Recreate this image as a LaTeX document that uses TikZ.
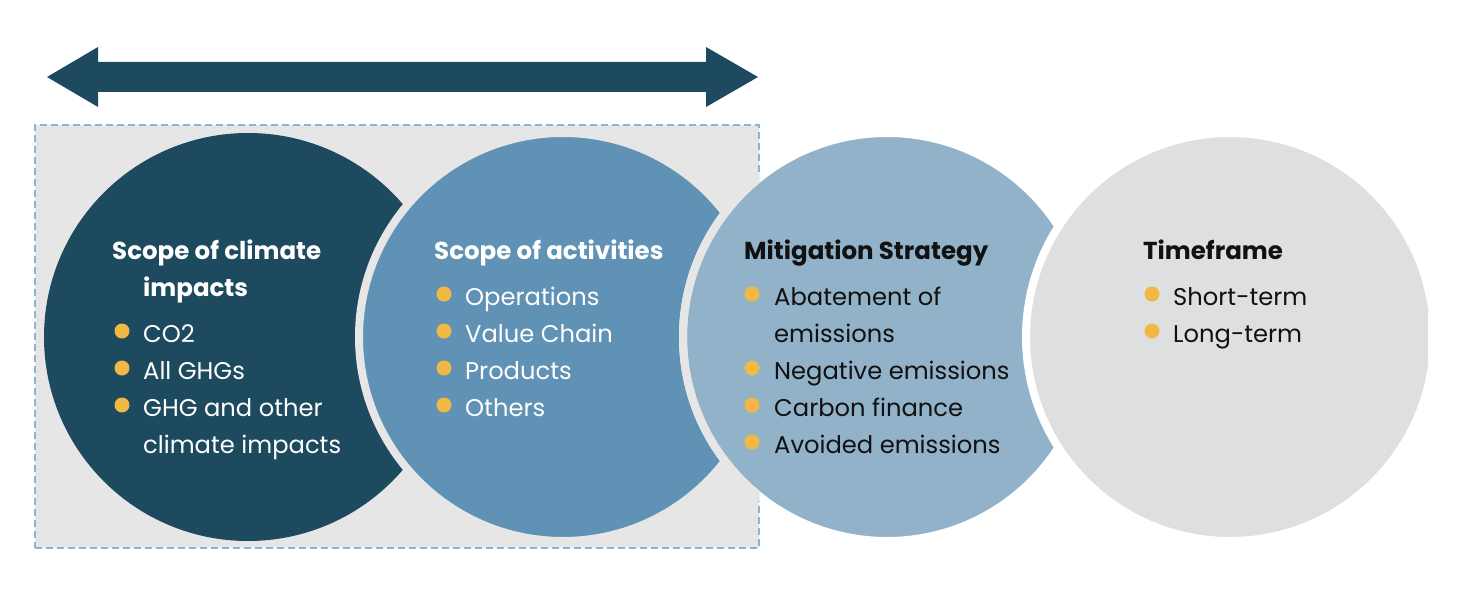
\documentclass[tikz,border=0pt]{standalone}
\usepackage{fontspec}
\setmainfont{Poppins}
\usepackage{tikz}
\usetikzlibrary{positioning}
\definecolor{ccnavy}{HTML}{1E4A60}
\definecolor{ccsteel}{HTML}{6092B5}
\definecolor{ccsky}{HTML}{92B2CA}
\definecolor{ccmist}{HTML}{DEDFE1}
\definecolor{ccgap}{HTML}{E6E6E6}
\definecolor{ccdash}{HTML}{8DB4D3}
\definecolor{ccgold}{HTML}{F2B843}
\definecolor{ccink}{HTML}{111111}

\begin{document}
\begin{tikzpicture}[
  x=1bp, y=-1bp,
  blob/.style={
    circle,
    inner sep=0pt,
    minimum size=408bp,
    line width=8bp,
    fill=#1
  },
  frame/.style={
    rectangle,
    draw=ccdash,
    dash pattern=on 7bp off 4bp,
    line width=1.2bp,
    fill=ccgap,
    minimum width=724bp,
    minimum height=423bp
  },
  head/.style={
    anchor=base west,
    inner sep=0pt,
    font=\fontsize{24.6}{28}\selectfont\bfseries,
    text=#1
  },
  item/.style={
    anchor=base west,
    inner sep=0pt,
    font=\fontsize{24.3}{28}\selectfont,
    text=#1
  },
  dot/.style={
    circle,
    inner sep=0pt,
    minimum size=15bp,
    fill=ccgold
  }
]
  \useasboundingbox (0,0) rectangle (1458,600);
  \clip (0,0) rectangle (1428,600);

  % double arrow over the grey box
  \fill[ccnavy] (47,77) -- (98,47) -- (98,62) -- (706,62) -- (706,47) -- (758,77)
    -- (706,107) -- (706,92) -- (98,92) -- (98,107) -- cycle;

  \node[frame] (box) at (397,336.5) {};

  % circles
  \node[blob=ccnavy] (impacts) at (248,337) {};
  \node[blob=ccsteel, draw=ccgap] (activities) at (563,337) {};
  \node[blob=ccsky, draw=white] (mitigation) at (887,337) {};
  \begin{scope}
    \clip (box.north west) rectangle (box.south east);
    \draw[ccgap, line width=8bp] (mitigation.center) circle (204bp);
  \end{scope}
  \node[blob=ccmist, draw=white] (timeframe) at (1230,337) {};

  % Scope of climate impacts
  \node[head=white] (impacts-h1) at (112,259) {Scope of climate};
  \node[head=white] (impacts-h2) at (143,296) {impacts};
  \foreach \txt [count=\i] in {CO2, All GHGs, GHG and other}
    \node[item=white] (impacts-\i) at (143,305+37*\i) {\txt};
  \node[item=white] (impacts-4) at (143,453) {climate impacts};
  \foreach \i in {1,2,3}
    \node[dot] (impacts-dot\i) at (122,294+37*\i) {};

  % Scope of activities
  \node[head=white] (activities-h) at (434,259) {Scope of activities};
  \foreach \txt [count=\i] in {Operations, Value Chain, Products, Others} {
    \node[item=white] (activities-\i) at (465,268+37*\i) {\txt};
    \node[dot] (activities-dot\i) at (444,257+37*\i) {};
  }

  % Mitigation Strategy
  \node[head=ccink] (mitigation-h) at (744,259) {Mitigation Strategy};
  \node[item=ccink] (mitigation-1) at (774,305) {Abatement of};
  \node[item=ccink] (mitigation-1b) at (774,342) {emissions};
  \foreach \txt [count=\i from 2] in {Negative emissions, Carbon finance, Avoided emissions}
    \node[item=ccink] (mitigation-\i) at (774,305+37*\i) {\txt};
  \foreach \i in {1,3,4,5}
    \node[dot] (mitigation-dot\i) at (752,257+37*\i) {};

  % Timeframe
  \node[head=ccink] (timeframe-h) at (1143,259) {Timeframe};
  \foreach \txt [count=\i] in {Short-term, Long-term} {
    \node[item=ccink] (timeframe-\i) at (1173,268+37*\i) {\txt};
    \node[dot] (timeframe-dot\i) at (1152,257+37*\i) {};
  }
\end{tikzpicture}
\end{document}
